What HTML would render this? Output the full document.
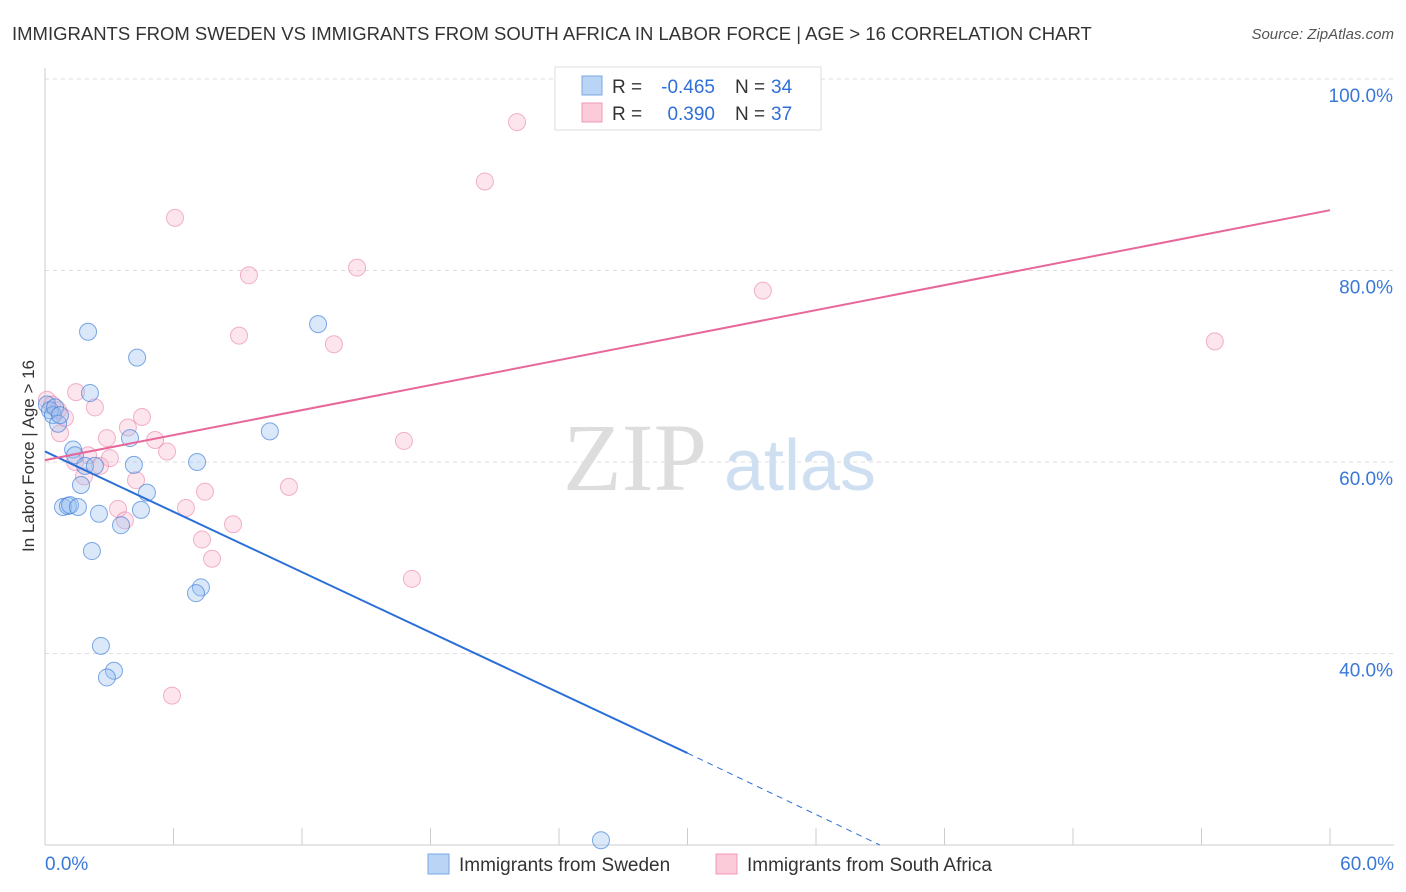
<!DOCTYPE html>
<html><head><meta charset="utf-8"><style>
body{margin:0;background:#fff;font-family:"Liberation Sans",sans-serif;}
svg{display:block}
</style></head><body>
<svg width="1406" height="892" viewBox="0 0 1406 892">
<text x="12" y="40" font-size="18.5" fill="#333">IMMIGRANTS FROM SWEDEN VS IMMIGRANTS FROM SOUTH AFRICA IN LABOR FORCE | AGE &gt; 16 CORRELATION CHART</text>
<text x="1394" y="39" font-size="15" fill="#555" font-style="italic" text-anchor="end">Source: ZipAtlas.com</text>
<g id="grid"></g>
<g id="wm">
<text x="635" y="490" font-size="96" font-family="Liberation Serif,serif" fill="#ddd" text-anchor="middle">ZIP</text>
<text x="800" y="490" font-size="72" fill="#cfdff2" text-anchor="middle">atlas</text></g>
<g id="axes"></g>
<g id="pts"></g>
<g id="lines"></g>
<g>
<rect x="555" y="67" width="266" height="63" fill="#fff" stroke="#ddd"/>
<rect x="582" y="76" width="20" height="19" fill="#b9d4f5" stroke="#7aa8e4"/>
<rect x="582" y="103" width="20" height="19" fill="#fbcbd9" stroke="#f09ab5"/>
<text x="612" y="93" font-size="19" fill="#333">R =</text>
<text x="715" y="93" font-size="19" fill="#2f6fd6" text-anchor="end">-0.465</text>
<text x="735" y="93" font-size="19" fill="#333">N =</text>
<text x="771" y="93" font-size="19" fill="#2f6fd6">34</text>
<text x="612" y="120" font-size="19" fill="#333">R =</text>
<text x="715" y="120" font-size="19" fill="#2f6fd6" text-anchor="end">0.390</text>
<text x="735" y="120" font-size="19" fill="#333">N =</text>
<text x="771" y="120" font-size="19" fill="#2f6fd6">37</text>
</g>
<text transform="translate(34,456) rotate(-90)" font-size="17" fill="#333" text-anchor="middle">In Labor Force | Age &gt; 16</text>
<g>
<rect x="428" y="854" width="21" height="20" fill="#b9d4f5" stroke="#7aa8e4"/>
<text x="459" y="871" font-size="19" fill="#333">Immigrants from Sweden</text>
<rect x="716" y="854" width="21" height="20" fill="#fbcbd9" stroke="#f09ab5"/>
<text x="747" y="871" font-size="19" fill="#333">Immigrants from South Africa</text>
</g>
</svg>
<script>
const blueX=[0.09,0.23,0.37,0.47,0.61,2.01,2.10,4.30,1.31,1.40,1.87,2.33,1.68,0.84,1.07,1.17,1.54,2.52,3.55,4.48,4.76,2.19,3.97,4.15,7.10,10.5,12.75,7.28,7.05,2.61,3.22,2.89,25.96,0.70];
const blueY=[66.0,65.4,64.9,65.7,64.0,73.6,67.2,70.9,61.3,60.7,59.6,59.6,57.6,55.3,55.4,55.5,55.3,54.6,53.4,55.0,56.8,50.7,62.5,59.7,60.0,63.2,74.4,46.9,46.3,40.8,38.2,37.5,20.5,64.9];
const pinkX=[0.09,0.33,0.61,0.93,0.70,1.45,2.33,2.89,3.87,4.53,5.14,5.70,1.40,2.01,3.03,2.57,1.82,4.25,3.41,3.73,6.58,7.47,8.78,7.33,7.80,6.07,9.52,9.06,13.49,14.57,11.39,16.76,17.13,20.54,22.04,33.52,54.62,5.93];
const pinkY=[66.5,66.0,65.4,64.6,63.0,67.3,65.7,62.5,63.6,64.7,62.3,61.1,60.0,60.7,60.4,59.6,58.5,58.1,55.1,53.9,55.2,56.9,53.5,51.9,49.9,85.5,79.5,73.2,72.3,80.3,57.4,62.2,47.8,89.3,95.5,77.9,72.6,35.6];
const blueTrendX=[0,30,38.98];
const blueTrendY=[61.1,29.6,20];
const pinkTrendX=[0,60];
const pinkTrendY=[60.2,86.3];
const yTicks=[40,60,80,100];
const yTickLabels=["40.0%","60.0%","80.0%","100.0%"];
const xTicks=[0,6,12,18,24,30,36,42,48,54,60];
const NS="http://www.w3.org/2000/svg";
const X=v=>45+v*(1285/60);
const Y=v=>845-(v-20)*9.575;
function mk(tag,attrs,parent){const e=document.createElementNS(NS,tag);for(const k in attrs)e.setAttribute(k,attrs[k]);parent.appendChild(e);return e;}
const grid=document.getElementById('grid'),axes=document.getElementById('axes'),pts=document.getElementById('pts'),lines=document.getElementById('lines');
yTicks.forEach((t,i)=>{
 const l=mk('line',{x1:45,x2:1394,y1:Y(t),y2:Y(t),stroke:'#ddd','stroke-dasharray':'4,4'},grid);
 
 
 const tx=mk('text',{x:1393,y:Y(t)+23,'font-size':19,fill:'#3a78d8','text-anchor':'end'},axes);
 tx.textContent=yTickLabels[i];
 
 
});
mk('line',{x1:45,x2:45,y1:68,y2:845,stroke:'#ccc'},axes);
mk('line',{x1:45,x2:1394,y1:845,y2:845,stroke:'#ccc'},axes);
xTicks.forEach(t=>{const l=mk('line',{x1:X(t),x2:X(t),y1:828,y2:845,stroke:'#ccc'},axes);
 
 });
const xl0=mk('text',{x:45,y:870,'font-size':19,fill:'#3a78d8'},axes);xl0.textContent='0.0%';


const xl1=mk('text',{x:1394,y:870,'font-size':19,fill:'#3a78d8','text-anchor':'end'},axes);xl1.textContent='60.0%';


pinkX.forEach((v,i)=>{const c=mk('circle',{cx:X(v),cy:Y(pinkY[i]),r:8.5,fill:'rgba(245,170,195,0.3)',stroke:'rgba(235,130,165,0.6)','stroke-width':1},pts);
 
 });
blueX.forEach((v,i)=>{const c=mk('circle',{cx:X(v),cy:Y(blueY[i]),r:8.5,fill:'rgba(150,190,240,0.35)',stroke:'rgba(60,125,215,0.65)','stroke-width':1},pts);
 
 });
const b1=mk('line',{x1:X(blueTrendX[0]),y1:Y(blueTrendY[0]),x2:X(blueTrendX[1]),y2:Y(blueTrendY[1]),stroke:'#2a6fd8','stroke-width':2},lines);


const b2=mk('line',{x1:X(blueTrendX[1]),y1:Y(blueTrendY[1]),x2:X(blueTrendX[2]),y2:Y(blueTrendY[2]),stroke:'#2a6fd8','stroke-width':1,'stroke-dasharray':'6,5'},lines);


const p1=mk('line',{x1:X(pinkTrendX[0]),y1:Y(pinkTrendY[0]),x2:X(pinkTrendX[1]),y2:Y(pinkTrendY[1]),stroke:'#e8679a','stroke-width':2},lines);


</script>
</body></html>
